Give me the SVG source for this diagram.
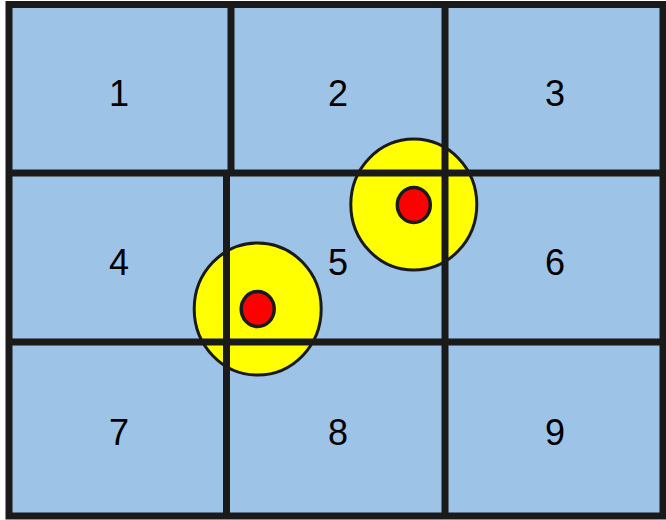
<svg xmlns="http://www.w3.org/2000/svg" width="666" height="520" viewBox="0 0 666 520">
<style>
.cell{fill:#9DC3E6}
.lbl{font-family:"Liberation Sans",Arial,sans-serif;font-size:36px;fill:#000;text-anchor:middle}
.grid{stroke:#1a1a1a;stroke-width:7;fill:none}
.zone{fill:#FFFF00;stroke:#1a1a1a;stroke-width:3}
.dot{fill:#FF0000;stroke:#1a1a1a;stroke-width:3.5}
</style>
<rect x="0" y="0" width="666" height="520" fill="#ffffff"/>
<g id="cell1"><rect class="cell" x="9" y="4.5" width="222" height="168.5"/><text class="lbl" x="119" y="106">1</text></g>
<g id="cell2"><rect class="cell" x="231" y="4.5" width="214" height="168.5"/><text class="lbl" x="338" y="106">2</text></g>
<g id="cell3"><rect class="cell" x="445" y="4.5" width="218" height="168.5"/><text class="lbl" x="555" y="106">3</text></g>
<g id="cell4"><rect class="cell" x="9" y="173" width="217.5" height="169"/><text class="lbl" x="119" y="275">4</text></g>
<g id="cell5"><rect class="cell" x="226.5" y="173" width="218.5" height="169"/><text class="lbl" x="338" y="275">5</text></g>
<g id="cell6"><rect class="cell" x="445" y="173" width="218" height="169"/><text class="lbl" x="555" y="275">6</text></g>
<g id="cell7"><rect class="cell" x="9" y="342" width="217.5" height="174"/><text class="lbl" x="119" y="445">7</text></g>
<g id="cell8"><rect class="cell" x="226.5" y="342" width="218.5" height="174"/><text class="lbl" x="338" y="445">8</text></g>
<g id="cell9"><rect class="cell" x="445" y="342" width="218" height="174"/><text class="lbl" x="555" y="445">9</text></g>
<g id="zone-a"><ellipse class="zone" cx="413.8" cy="204.5" rx="63" ry="65.5"/></g>
<g id="zone-b"><ellipse class="zone" cx="257.7" cy="309" rx="63.5" ry="66"/></g>
<g id="grid">
<rect class="grid" x="9" y="4.5" width="654" height="511.5"/>
<line class="grid" x1="231" y1="4.5" x2="231" y2="173"/>
<line class="grid" x1="226.5" y1="173" x2="226.5" y2="516"/>
<line class="grid" x1="445" y1="4.5" x2="445" y2="516"/>
<line class="grid" x1="9" y1="173" x2="663" y2="173"/>
<line class="grid" x1="9" y1="342" x2="663" y2="342"/>
</g>
<g id="dot-a"><ellipse class="dot" cx="413.8" cy="205" rx="16.5" ry="17.5"/></g>
<g id="dot-b"><ellipse class="dot" cx="257.7" cy="309" rx="16.5" ry="17.5"/></g>
</svg>
